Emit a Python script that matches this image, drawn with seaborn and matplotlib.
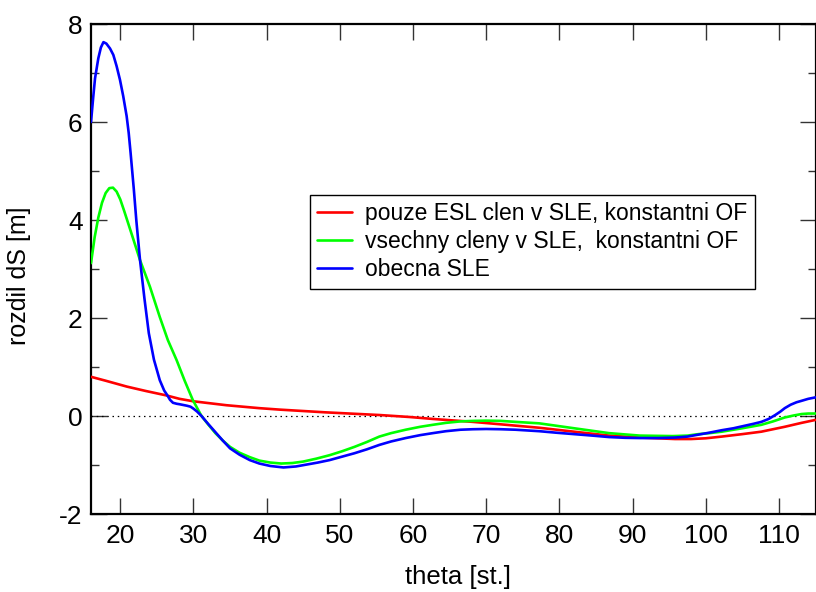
import matplotlib
matplotlib.use("Agg")
import matplotlib.pyplot as plt
import seaborn as sns
import pandas as pd
from matplotlib.ticker import MultipleLocator

# theta [st.] and dS [m] for the three solution variants
theta_esl = [16, 18, 20.9, 23.5, 26.3, 28.1, 30, 34.5, 39, 41.8, 48, 55.4, 59.5,
             62.7, 68.2, 72, 77.25, 82, 86.8, 91, 95.8, 98, 100, 102.2, 105,
             107.6, 110.8, 113.1, 115]
ds_esl = [0.80, 0.72, 0.60, 0.51, 0.42, 0.35, 0.30, 0.22, 0.16, 0.13, 0.075, 0.02,
          -0.02, -0.06, -0.12, -0.17, -0.24, -0.32, -0.40, -0.44, -0.47, -0.47,
          -0.455, -0.42, -0.37, -0.32, -0.22, -0.14, -0.08]

theta_all = [16, 16.5, 17, 17.5, 18, 18.5, 19, 19.5, 20, 20.5, 21, 21.8, 22.7,
             24.05, 25.4, 26.5, 27.7, 28.8, 29.9, 31.1, 32, 33, 34, 35, 36.3,
             37.7, 39, 40.5, 42, 43.5, 45, 46.8, 48.6, 50.3, 52, 53.7, 55.4, 57,
             59, 61, 62.7, 64.5, 66.5, 68.2, 70, 72, 74, 77.25, 82, 86.8, 91,
             95.5, 97.5, 99, 100.5, 102.2, 105, 107.6, 109.2, 110.8, 112, 113.1,
             114, 115]
ds_all = [3.12, 3.65, 4.05, 4.35, 4.55, 4.65, 4.66, 4.58, 4.42, 4.2, 3.97, 3.6,
          3.18, 2.64, 2.02, 1.55, 1.14, 0.72, 0.33, 0.0, -0.17, -0.35, -0.5,
          -0.63, -0.75, -0.84, -0.91, -0.95, -0.97, -0.96, -0.93, -0.87, -0.8,
          -0.72, -0.63, -0.53, -0.42, -0.35, -0.28, -0.22, -0.18, -0.14, -0.11,
          -0.10, -0.095, -0.10, -0.12, -0.15, -0.25, -0.35, -0.40, -0.41, -0.40,
          -0.37, -0.35, -0.32, -0.25, -0.18, -0.11, -0.03, 0.01, 0.04, 0.05,
          0.05]

theta_gen = [16, 16.3, 16.55, 17, 17.35, 17.7, 18.1, 18.6, 19.05, 19.5, 19.96,
             20.4, 20.87, 21.15, 21.41, 21.85, 22.2, 22.7, 23.3, 23.9, 24.6, 25.4,
             26.0, 26.4, 26.8, 27.2, 27.7, 28.1, 29.1, 29.6, 30.0, 30.5, 31.1, 32,
             33, 34, 35, 36.3, 37.7, 39, 40.5, 42.3, 44, 45.5, 47, 48.6, 50.3, 52,
             53.7, 55.4, 57, 59, 61, 62.7, 64.5, 66.5, 68.2, 70, 72, 74, 77.25,
             79.5, 82, 84.5, 86.8, 89, 91, 93.5, 95.8, 97.5, 99, 100.5, 102.2,
             103.8, 105, 106.5, 107.6, 108.6, 109.5, 110.2, 110.8, 111.6, 112.4,
             113.1, 114, 115]
ds_gen = [6.0, 6.5, 6.89, 7.3, 7.52, 7.63, 7.6, 7.5, 7.37, 7.14, 6.86, 6.53,
          6.12, 5.78, 5.37, 4.63, 3.98, 3.18, 2.4, 1.69, 1.15, 0.73, 0.52, 0.43,
          0.33, 0.27, 0.25, 0.24, 0.21, 0.19, 0.15, 0.09, 0.0, -0.16, -0.33,
          -0.5, -0.66, -0.79, -0.9, -0.97, -1.02, -1.05, -1.03, -0.99, -0.95,
          -0.9, -0.83, -0.76, -0.68, -0.59, -0.52, -0.45, -0.39, -0.35, -0.31,
          -0.28, -0.27, -0.265, -0.27, -0.28, -0.31, -0.34, -0.37, -0.40, -0.43,
          -0.445, -0.45, -0.45, -0.44, -0.42, -0.38, -0.34, -0.29, -0.25,
          -0.21, -0.16, -0.12, -0.06, 0.02, 0.09, 0.16, 0.23, 0.28, 0.31, 0.35,
          0.38]

labels = ["pouze ESL clen v SLE, konstantni OF",
          "vsechny cleny v SLE,  konstantni OF",
          "obecna SLE"]
colors = ["#ff0000", "#00ff00", "#0000ff"]

x_ticks = [20, 30, 40, 50, 60, 70, 80, 90, 100, 110]
y_ticks = [-2, 0, 2, 4, 6, 8]

frames = []
for lab, xs, ys in zip(labels, [theta_esl, theta_all, theta_gen],
                       [ds_esl, ds_all, ds_gen]):
    frames.append(pd.DataFrame({"theta": xs, "dS": ys, "varianta": lab}))
df = pd.concat(frames, ignore_index=True)

sns.set_theme(style="ticks")
plt.rcParams["font.family"] = ["Liberation Sans", "DejaVu Sans"]
plt.rcParams["axes.unicode_minus"] = False
plt.rcParams["text.color"] = "black"
plt.rcParams["axes.labelcolor"] = "black"
plt.rcParams["xtick.color"] = "#333333"
plt.rcParams["ytick.color"] = "#333333"
plt.rcParams["xtick.labelcolor"] = "black"
plt.rcParams["ytick.labelcolor"] = "black"

fig = plt.figure(figsize=(8.16, 5.92), dpi=100)
ax = fig.add_axes([91 / 816, 78 / 592, 724.5 / 816, 490 / 592])

ax.axhline(0, color="black", lw=0.9, linestyle=(0, (1.2, 3.0)), zorder=1)

sns.lineplot(data=df, x="theta", y="dS", hue="varianta", hue_order=labels,
             palette=colors, lw=1.9, sort=False, estimator=None, ax=ax,
             legend=False, zorder=3)

ax.set_xlim(16, 115)
ax.set_ylim(-2, 8)
ax.set_xticks(x_ticks)
ax.set_yticks(y_ticks)
ax.yaxis.set_minor_locator(MultipleLocator(1))
ax.tick_params(axis="both", which="major", direction="in", length=11.5,
               width=1.0, labelsize=19, top=True, right=True, pad=6)
ax.tick_params(axis="y", which="minor", direction="in", length=6, width=1.0,
               left=True, right=True)
ax.tick_params(axis="x", which="major", pad=7.5)
for side in ax.spines.values():
    side.set_linewidth(1.6)
    side.set_color("black")

ax.set_xlabel("theta [st.]", fontsize=18.5)
ax.set_ylabel("rozdil dS [m]", fontsize=18)
ax.xaxis.set_label_coords(0.507, -0.105)
ax.yaxis.set_label_coords(-0.083, 0.487)

handles = [plt.Line2D([], [], color=c, lw=1.9) for c in colors]
leg = ax.legend(handles, labels, loc="upper left",
                bbox_to_anchor=(310 / 816, 1 - 195 / 592),
                bbox_transform=fig.transFigure, borderaxespad=0,
                fontsize=16.5, frameon=True, fancybox=False, framealpha=1,
                edgecolor="black", handlelength=1.5, handletextpad=0.6,
                labelspacing=0.22, borderpad=0.32)
leg.get_frame().set_linewidth(1.0)

fig.savefig("out.png", dpi=100)
